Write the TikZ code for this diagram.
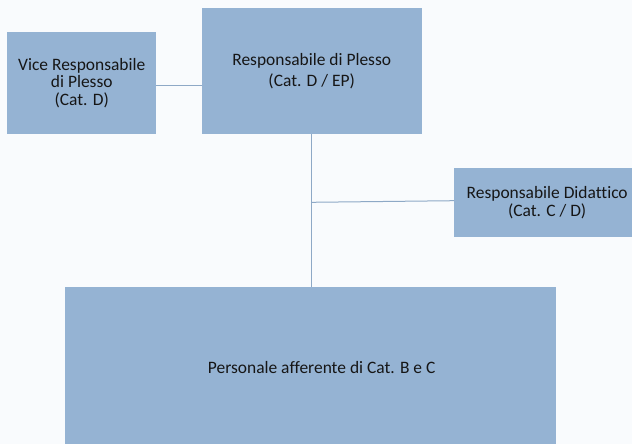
\documentclass[tikz,border=0pt]{standalone}
\usepackage{fontspec}
\setmainfont{Carlito}[Ligatures=CommonOff]
\definecolor{pagebg}{HTML}{F9FBFD}
\definecolor{boxfill}{HTML}{95B3D3}
\definecolor{linkcol}{HTML}{8EA9C6}
\definecolor{txt}{HTML}{161616}
\tikzset{
  unitbox/.style={fill=boxfill, draw=none, inner sep=0pt, align=center,
    text=txt, font=\fontsize{17.5}{17.5}\selectfont},
  link/.style={draw=linkcol, line width=1bp}
}
\begin{document}
\begin{tikzpicture}[x=1bp, y=-1bp]
  % page area
  \fill[pagebg] (0,0) rectangle (632,444);
  \useasboundingbox (0,0) rectangle (632,444);

  % units
  \node[unitbox, minimum width=148.5bp, minimum height=102bp] (vice) at (81.75,83)
    {Vice Responsabile\\di Plesso\\(Cat. D)};
  \node[unitbox, minimum width=220bp, minimum height=126bp,
    font=\fontsize{17.5}{20.7}\selectfont] (resp) at (311.7,71.3)
    {Responsabile di Plesso\\(Cat. D / EP)};
  \node[unitbox, minimum width=185.7bp, minimum height=68.7bp] (did) at (547.2,202.7)
    {Responsabile Didattico\\(Cat. C / D)};
  \node[unitbox, minimum width=491.3bp, minimum height=162bp] (staff) at (310.7,368)
    {\hspace*{22bp}\raisebox{-2bp}{Personale afferente di Cat. B e C}};

  % connectors
  \draw[link] ([yshift=-2.3bp]vice.east) -- ([yshift=-2.3bp]vice.east -| resp.west);
  \draw[link] (resp.south) -- (resp.south |- staff.north);
  \coordinate (junc) at ([yshift=0.4bp]resp.south |- did.west);
  \draw[link] (junc) -- ([yshift=2bp]did.west);
\end{tikzpicture}
\end{document}
